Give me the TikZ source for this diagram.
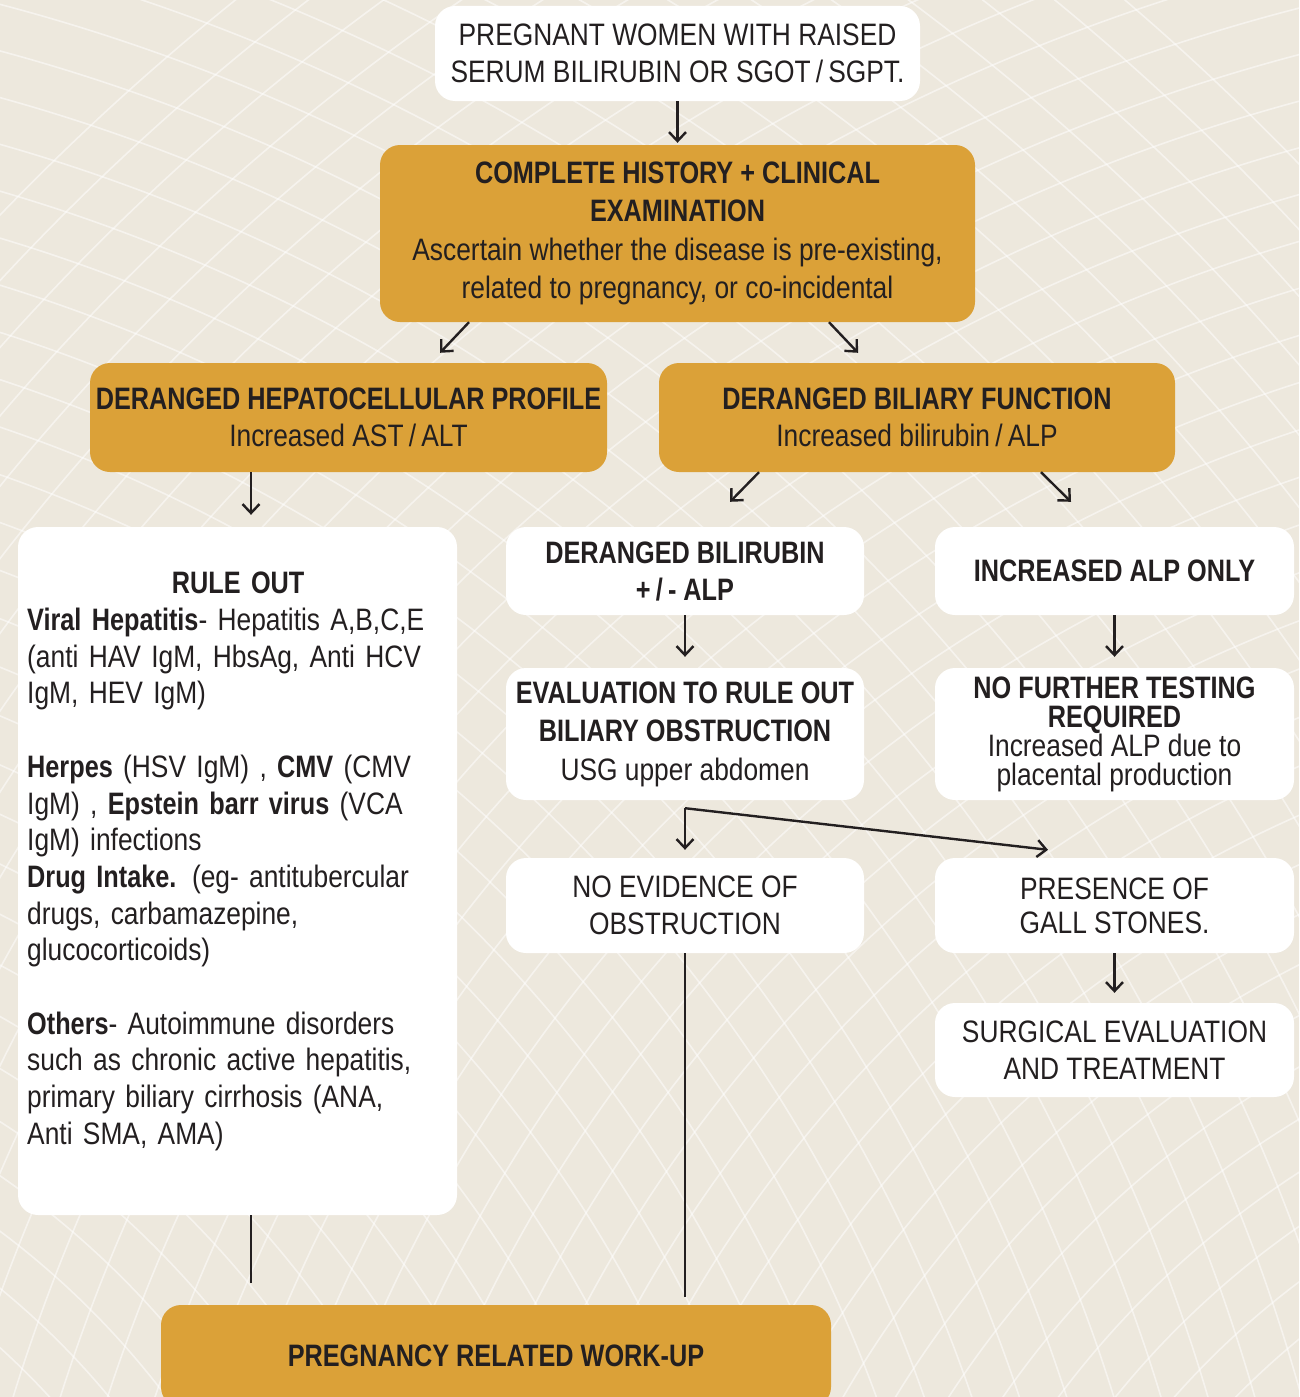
\documentclass[tikz,border=0pt]{standalone}
\usepackage{fontspec}
\setmainfont{Liberation Sans}[FakeStretch=0.85, BoldFeatures={FakeStretch=0.815}]
\usetikzlibrary{arrows.meta}
\definecolor{bg}{HTML}{EDE8DD}
\definecolor{gold}{HTML}{DBA138}
\definecolor{ink}{HTML}{231F20}
\newcommand\fsz{\fontsize{31}{37}\selectfont}
\begin{document}
\begin{tikzpicture}[x=1pt,y=-1pt,
  box/.style={rounded corners=20pt, inner sep=0pt, align=center, text=ink, font=\fsz},
  wbox/.style={box, fill=white},
  gbox/.style={box, fill=gold},
  arr/.style={draw=ink, line width=2.4pt, -{Straight Barb[length=9pt,width=17pt,line width=2.4pt]}},
  ln/.style={draw=ink, line width=2.4pt},
  mesh/.style={draw=white, line width=1.6pt, opacity=0.5}]
\useasboundingbox (0,0) rectangle (1299,1397);
\fill[bg] (0,0) rectangle (1299,1397);
\begin{scope}
  \clip (0,0) rectangle (1299,1397);
  \foreach \r in {700,745,...,2500} {
    \draw[mesh] (-500,1900) circle[radius=\r];
    \draw[mesh] (1800,1950) circle[radius=\r];
  }
\end{scope}

\node[wbox, minimum width=485pt, minimum height=95pt] (top) at (677.5,53.5)
  {PREGNANT WOMEN WITH RAISED\\SERUM BILIRUBIN OR SGOT\,/\,SGPT.};
\node[gbox, minimum width=595pt, minimum height=177pt, font=\fontsize{31}{38.5}\selectfont] (hist) at (677.5,233.5)
  {\textbf{COMPLETE HISTORY + CLINICAL}\\\textbf{EXAMINATION}\\Ascertain whether the disease is pre-existing,\\related to pregnancy, or co-incidental};
\node[gbox, minimum width=517pt, minimum height=109pt] (hep) at (348.5,417.5)
  {\textbf{DERANGED HEPATOCELLULAR PROFILE}\\Increased AST\,/\,ALT};
\node[gbox, minimum width=516pt, minimum height=109pt] (bil) at (917,417.5)
  {\textbf{DERANGED BILIARY FUNCTION}\\Increased bilirubin\,/\,ALP};
\node[wbox, minimum width=439pt, minimum height=688pt] (rule) at (237.5,871) {};
\node[anchor=north west, inner sep=0pt, text width=430pt, align=left, text=ink,
  font=\fontsize{31}{36.7}\selectfont] (ruletext) at (27,572)
  {\makebox[422pt][c]{\textbf{RULE OUT}}\\
   \textbf{Viral Hepatitis}- Hepatitis A,B,C,E\\
   (anti HAV IgM, HbsAg, Anti HCV\\
   IgM, HEV IgM)\\[36.7pt]
   \textbf{Herpes} (HSV IgM) , \textbf{CMV} (CMV\\
   IgM) , \textbf{Epstein barr virus} (VCA\\
   IgM) infections\\
   \textbf{Drug Intake.} (eg- antitubercular\\
   drugs, carbamazepine,\\
   glucocorticoids)\\[36.7pt]
   \textbf{Others}- Autoimmune disorders\\
   such as chronic active hepatitis,\\
   primary biliary cirrhosis (ANA,\\
   Anti SMA, AMA)};
\node[wbox, minimum width=358pt, minimum height=88pt] (dbil) at (685,571)
  {\textbf{DERANGED BILIRUBIN}\\\textbf{+\,/\,- ALP}};
\node[wbox, minimum width=359pt, minimum height=88pt] (alp) at (1114.5,571)
  {\textbf{INCREASED ALP ONLY}};
\node[wbox, minimum width=358pt, minimum height=132pt, font=\fontsize{31}{38.5}\selectfont] (eval) at (685,734)
  {\textbf{EVALUATION TO RULE OUT}\\\textbf{BILIARY OBSTRUCTION}\\USG upper abdomen};
\node[wbox, minimum width=359pt, minimum height=132pt, font=\fontsize{31}{29}\selectfont] (nft) at (1114.5,734)
  {\textbf{NO FURTHER TESTING}\\\textbf{REQUIRED}\\Increased ALP due to\\placental production};
\node[wbox, minimum width=358pt, minimum height=95pt] (noev) at (685,905.5)
  {NO EVIDENCE OF\\OBSTRUCTION};
\node[wbox, minimum width=359pt, minimum height=95pt, font=\fontsize{31}{34}\selectfont] (gall) at (1114.5,905.5)
  {PRESENCE OF\\GALL STONES.};
\node[wbox, minimum width=359pt, minimum height=94pt] (surg) at (1114.5,1050)
  {SURGICAL EVALUATION\\AND TREATMENT};
\node[gbox, minimum width=670pt, minimum height=102pt] (preg) at (496,1356)
  {\textbf{PREGNANCY RELATED WORK-UP}};

\coordinate (sp) at ([yshift=-8pt]eval.south);
\coordinate (e1) at (251,1283);
\coordinate (e2) at (685,1297);

\draw[arr] (top.south) -- ([yshift=2pt]hist.north);
\draw[arr] ([xshift=-208.5pt]hist.south) -- ([xshift=91.5pt,yshift=10pt]hep.north);
\draw[arr] ([xshift=151.5pt]hist.south) -- ([xshift=-59pt,yshift=10pt]bil.north);
\draw[arr] ([xshift=-97.5pt]hep.south) -- ([xshift=13.5pt,yshift=12pt]rule.north);
\draw[arr] ([xshift=-158pt]bil.south) -- ([xshift=45pt,yshift=25pt]dbil.north);
\draw[arr] ([xshift=124pt]bil.south) -- ([xshift=-43.5pt,yshift=25pt]alp.north);
\draw[arr] (dbil.south) -- ([yshift=11pt]eval.north);
\draw[arr] (alp.south) -- ([yshift=11pt]nft.north);
\draw[arr] (sp) -- ([yshift=8pt]noev.north);
\draw[arr] (sp) -- ([xshift=-66.5pt,yshift=8pt]gall.north);
\draw[arr] (gall.south) -- ([yshift=10pt]surg.north);
\draw[ln] ([xshift=13.5pt]rule.south) -- (e1);
\draw[ln] (noev.south) -- (e2);
\end{tikzpicture}
\end{document}
